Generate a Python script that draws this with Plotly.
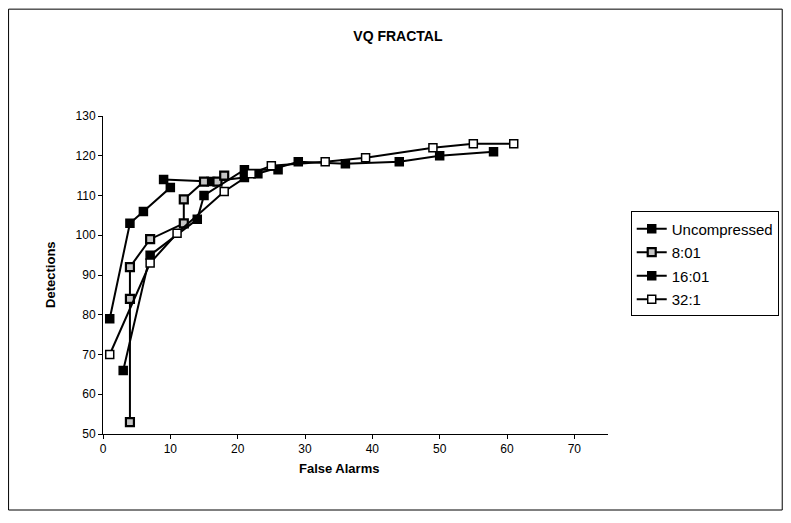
import plotly.graph_objects as go

# data (false alarms, detections)
uncompressed_fa = [1, 4, 6, 10, 9, 16, 21, 23, 29, 36, 44, 50, 58]
uncompressed_det = [79, 103, 106, 112, 114, 113.5, 114.5, 115.5, 118.5, 118, 118.5, 120, 121]

r8_fa = [4, 4, 4, 7, 12, 12, 15, 17, 18]
r8_det = [53, 84, 92, 99, 103, 109, 113.5, 113.5, 115]

r16_fa = [3, 7, 14, 15, 21, 26]
r16_det = [66, 95, 104, 110, 116.5, 116.5]

r32_fa = [1, 7, 11, 18, 22, 25, 33, 39, 49, 55, 61]
r32_det = [70, 93, 100.5, 111, 115.5, 117.5, 118.5, 119.5, 122, 123, 123]

x_ticks = [0, 10, 20, 30, 40, 50, 60, 70]
y_ticks = [50, 60, 70, 80, 90, 100, 110, 120, 130]

FONT = 'Liberation Sans, Arial, sans-serif'


def main() -> None:
    fig = go.Figure()
    series = [
        ('Uncompressed', uncompressed_fa, uncompressed_det, 'black', 1.5),
        ('8:01', r8_fa, r8_det, '#c4c4c4', 2.2),
        ('16:01', r16_fa, r16_det, 'black', 1.5),
        ('32:1', r32_fa, r32_det, 'white', 1.5),
    ]
    for name, xs, ys, fill, edge in series:
        fig.add_trace(go.Scatter(
            x=xs, y=ys, name=name, mode='lines+markers', legendgroup=name,
            line=dict(color='black', width=2),
            marker=dict(symbol='square', size=8, color=fill, line=dict(color='black', width=edge)),
        ))

    # page body has an 8px margin, so the figure is sized to fit the window
    fig.update_layout(
        width=783, height=515,
        paper_bgcolor='white', plot_bgcolor='white',
        margin=dict(l=95, r=181, t=108, b=89),
        font=dict(family=FONT, size=12, color='black'),
        title=dict(text='<b>VQ FRACTAL</b>', x=0.498, xanchor='center', y=0.946, yanchor='middle',
                   font=dict(family=FONT, size=14, color='black')),
        legend=dict(x=1.045, y=0.7, xanchor='left', yanchor='top', bordercolor='black', borderwidth=1,
                    font=dict(family=FONT, size=15), tracegroupgap=1, bgcolor='white',
                    itemwidth=30),
        xaxis=dict(range=[0, 75], tickvals=x_ticks, showgrid=False, zeroline=False,
                   showline=True, linecolor='black', linewidth=1, ticks='outside', ticklen=4,
                   tickcolor='black'),
        yaxis=dict(range=[50, 130], tickvals=y_ticks, showgrid=False, zeroline=False,
                   showline=True, linecolor='black', linewidth=1, ticks='outside', ticklen=4,
                   tickcolor='black'),
        annotations=[
            dict(text='<b>False Alarms</b>', xref='paper', yref='paper', x=0.467, y=-0.138,
                 showarrow=False, font=dict(family=FONT, size=13)),
            dict(text='<b>Detections</b>', xref='paper', yref='paper', x=-0.124, y=0.5,
                 textangle=-90, showarrow=False, font=dict(family=FONT, size=13)),
        ],
        shapes=[dict(type='rect', xref='paper', yref='paper', x0=-0.187, x1=1.345, y0=-0.239, y1=1.336,
                     line=dict(color='black', width=1))],
    )
    fig.write_html('out.html')


if __name__ == '__main__':
    main()
